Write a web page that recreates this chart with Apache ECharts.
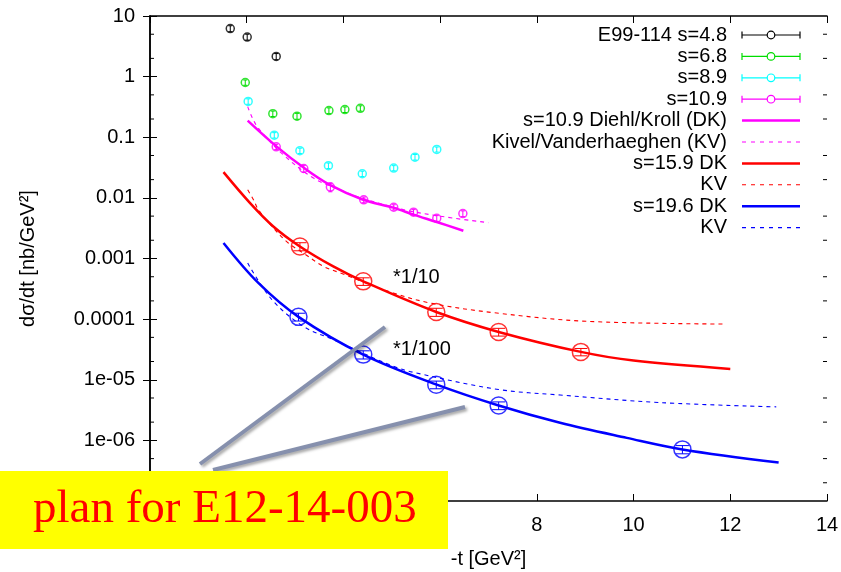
<!DOCTYPE html>
<html>
<head>
<meta charset="utf-8">
<script src="https://cdn.jsdelivr.net/npm/echarts@6/dist/echarts.min.js"></script>
<style>
html, body { margin: 0; padding: 0; background: #fff; }
#chart { width: 841px; height: 572px; }
</style>
</head>
<body>
<div id="chart"></div>
<script>
// data points (x = -t, y = dsigma/dt, err = error bar)
var e99X = [1.66, 2.01, 2.61];
var e99Y = [6.2, 4.5, 2.15];
var e99Err = [0.7, 0.5, 0.25];

var s68X = [1.97, 2.54, 3.04, 3.70, 4.03, 4.35];
var s68Y = [0.80, 0.245, 0.223, 0.275, 0.286, 0.30];
var s68Err = [0.08, 0.025, 0.025, 0.03, 0.03, 0.03];

var s89X = [2.03, 2.57, 3.10, 3.69, 4.39, 5.04, 5.48, 5.93];
var s89Y = [0.39, 0.108, 0.060, 0.034, 0.025, 0.031, 0.047, 0.063];
var s89Err = [0.04, 0.011, 0.006, 0.0035, 0.0025, 0.003, 0.005, 0.006];

var s109X = [2.61, 3.18, 3.73, 4.42, 5.04, 5.45, 5.93, 6.47];
var s109Y = [0.0695, 0.0305, 0.0151, 0.0093, 0.0070, 0.0058, 0.0046, 0.0055];
var s109Err = [0.007, 0.004, 0.0025, 0.001, 0.0007, 0.0006, 0.0005, 0.0006];

// projected points (scaled *1/10 and *1/100)
var p159X = [3.10, 4.41, 5.92, 7.21, 8.91];
var p159Y = [1.58e-3, 4.2e-4, 1.31e-4, 6.15e-5, 2.88e-5];
var p159Err = [2.4e-4, 6e-5, 2e-5, 9e-6, 4e-6];

var p196X = [3.07, 4.41, 5.92, 7.21, 11.01];
var p196Y = [1.09e-4, 2.6e-5, 8.3e-6, 3.76e-6, 7.1e-7];
var p196Err = [1.6e-5, 4e-6, 1.2e-6, 5.5e-7, 1.1e-7];

// model curves
var dk109 = [[2.02, 0.188], [2.62, 0.070], [3.19, 0.031], [3.72, 0.0164], [4.41, 0.0093],
             [5.03, 0.0069], [5.45, 0.0053], [5.93, 0.0040], [6.48, 0.00287]];
var kv109 = [[2.02, 0.32], [2.12, 0.206], [2.24, 0.141], [2.72, 0.0547], [3.38, 0.0212],
             [3.93, 0.0136], [4.28, 0.0105], [5.24, 0.0064], [6.14, 0.0048], [7.0, 0.0039]];
var dk159 = [[1.52, 0.0266], [2.07, 0.0082], [2.55, 0.00338], [3.10, 0.00158], [3.79, 0.00074],
             [4.41, 0.00042], [5.92, 0.000131], [7.21, 6.15e-5], [8.91, 2.88e-5], [10.0, 2.07e-5], [12.0, 1.51e-5]];
var kv159 = [[2.02, 0.0136], [2.14, 0.0093], [2.24, 0.0064], [2.52, 0.0034], [2.86, 0.0018],
             [3.17, 0.00123], [3.59, 0.00074], [3.93, 0.00058], [5.03, 2.7e-4], [5.86, 1.8e-4],
             [7.17, 1.26e-4], [9.03, 9.2e-5], [11.9, 8.3e-5]];
var dk196 = [[1.52, 0.0018], [2.24, 3.95e-4], [3.07, 1.09e-4], [4.41, 2.6e-5], [5.93, 8.3e-6],
             [7.21, 3.76e-6], [8.48, 1.95e-6], [9.86, 1.10e-6], [11.01, 7.1e-7], [13.0, 4.3e-7]];
var kv196 = [[2.02, 8.4e-4], [2.52, 2.1e-4], [3.17, 7.6e-5], [3.79, 4.6e-5], [5.03, 1.67e-5],
             [5.59, 1.25e-5], [7.21, 6.9e-6], [8.48, 5.6e-6], [10.55, 4.2e-6], [12.95, 3.57e-6]];

var yTickLabels = ['1e-07', '1e-06', '1e-05', '0.0001', '0.001', '0.01', '0.1', '1', '10'];
var minorSteps = [2, 5];
var legendNames = ['E99-114 s=4.8', 's=6.8', 's=8.9', 's=10.9', 's=10.9 Diehl/Kroll (DK)',
                   'Kivel/Vanderhaeghen (KV)', 's=15.9 DK', 'KV', 's=19.6 DK', 'KV'];

var FONT = 'Liberation Sans, Arial, Helvetica, sans-serif';

function zip(xs, ys, es) {
	return xs.map(function (x, i) { return [x, ys[i], es[i]]; });
}

function errRender(half) {
	return function (params, api) {
		var x = api.value(0), y = api.value(1), e = api.value(2);
		var hi = api.coord([x, y + e]), lo = api.coord([x, y - e]);
		var st = { stroke: api.visual('color'), lineWidth: 1 };
		return {
			type: 'group',
			children: [
				{ type: 'line', shape: { x1: hi[0], y1: hi[1], x2: lo[0], y2: lo[1] }, style: st },
				{ type: 'line', shape: { x1: hi[0] - half, y1: hi[1], x2: hi[0] + half, y2: hi[1] }, style: st },
				{ type: 'line', shape: { x1: lo[0] - half, y1: lo[1], x2: lo[0] + half, y2: lo[1] }, style: st }
			]
		};
	};
}

function points(name, xs, ys, es, color, size) {
	var data = zip(xs, ys, es);
	return [
		{
			name: name, type: 'scatter', data: data, symbol: 'circle', symbolSize: size,
			itemStyle: { color: 'rgba(0,0,0,0)', borderColor: color, borderWidth: 1.5 },
			z: 4
		},
		{
			name: name, type: 'custom', data: data, encode: { x: 0, y: 1 },
			itemStyle: { color: color }, renderItem: errRender(size / 2 - 2), z: 4
		}
	];
}

function curve(name, data, color, dashed) {
	return {
		name: name, type: 'line', data: data, showSymbol: false, smooth: 0.35,
		lineStyle: dashed ? { color: color, width: 1.1, type: [4, 4] } : { color: color, width: 2.5 },
		z: dashed ? 2 : 3
	};
}

// gnuplot-style minor ticks at 2 and 5 of each decade, on left and right axes
var minorVals = [];
for (var k = -7; k < 1; k++) {
	minorSteps.forEach(function (m) { minorVals.push([0, m * Math.pow(10, k)]); });
}
var minorTickSeries = {
	name: 'minor ticks', type: 'custom', data: minorVals, encode: { x: 0, y: 1 }, silent: true, z: 5,
	renderItem: function (params, api) {
		var l = api.coord([0, api.value(1)]);
		var r = api.coord([14, api.value(1)]);
		var st = { stroke: '#000', lineWidth: 1 };
		return {
			type: 'group',
			children: [
				{ type: 'line', shape: { x1: l[0], y1: l[1], x2: l[0] + 4, y2: l[1] }, style: st },
				{ type: 'line', shape: { x1: r[0] - 4, y1: r[1], x2: r[0], y2: r[1] }, style: st }
			]
		};
	}
};

var series = [].concat(
	points('E99-114 s=4.8', e99X, e99Y, e99Err, '#000000', 8),
	points('s=6.8', s68X, s68Y, s68Err, '#00dd00', 8),
	points('s=8.9', s89X, s89Y, s89Err, '#00ffff', 8),
	points('s=10.9', s109X, s109Y, s109Err, '#ff00ff', 8),
	[curve('DK 10.9', dk109, '#ff00ff', false), curve('KV 10.9', kv109, '#ff00ff', true)],
	[curve('DK 15.9', dk159, '#ff0000', false), curve('KV 15.9', kv159, '#ff0000', true)],
	points('s=15.9 points', p159X, p159Y, p159Err, '#ff0000', 17),
	[curve('DK 19.6', dk196, '#0000ff', false), curve('KV 19.6', kv196, '#0000ff', true)],
	points('s=19.6 points', p196X, p196Y, p196Err, '#0000ff', 17),
	[minorTickSeries]
);

// legend drawn as text + samples, gnuplot style
var legendStyles = [
	{ color: '#000000', kind: 'err' }, { color: '#00dd00', kind: 'err' },
	{ color: '#00ffff', kind: 'err' }, { color: '#ff00ff', kind: 'err' },
	{ color: '#ff00ff', kind: 'solid' }, { color: '#ff00ff', kind: 'dash' },
	{ color: '#ff0000', kind: 'solid' }, { color: '#ff0000', kind: 'dash' },
	{ color: '#0000ff', kind: 'solid' }, { color: '#0000ff', kind: 'dash' }
];
var graphics = [];
legendNames.forEach(function (name, i) {
	var y = 35 + i * 21.4;
	var s = legendStyles[i];
	graphics.push({
		type: 'text', x: 727, y: y,
		style: { text: name, font: '20px ' + FONT, fill: '#000', align: 'right', verticalAlign: 'middle' }
	});
	if (s.kind === 'err') {
		var st = { stroke: s.color, lineWidth: 1.2 };
		graphics.push({ type: 'line', shape: { x1: 742, y1: y, x2: 800, y2: y }, style: st });
		graphics.push({ type: 'line', shape: { x1: 742, y1: y - 3.5, x2: 742, y2: y + 3.5 }, style: st });
		graphics.push({ type: 'line', shape: { x1: 800, y1: y - 3.5, x2: 800, y2: y + 3.5 }, style: st });
		graphics.push({ type: 'circle', shape: { cx: 771, cy: y, r: 3.8 }, style: { stroke: s.color, fill: '#fff', lineWidth: 1.2 } });
	} else if (s.kind === 'solid') {
		graphics.push({ type: 'line', shape: { x1: 742, y1: y, x2: 800, y2: y }, style: { stroke: s.color, lineWidth: 2.5 } });
	} else {
		graphics.push({ type: 'line', shape: { x1: 742, y1: y, x2: 800, y2: y }, style: { stroke: s.color, lineWidth: 1.1, lineDash: [4, 5] } });
	}
});

// scale annotations
graphics.push({ type: 'text', x: 393, y: 277, style: { text: '*1/10', font: '20px ' + FONT, fill: '#000', verticalAlign: 'middle' } });
graphics.push({ type: 'text', x: 393, y: 349, style: { text: '*1/100', font: '20px ' + FONT, fill: '#000', verticalAlign: 'middle' } });

// pointer lines
var grayLine = {
	stroke: '#8690ad', lineWidth: 4, lineCap: 'butt',
	shadowBlur: 3, shadowColor: 'rgba(0,0,0,0.35)', shadowOffsetX: 2, shadowOffsetY: 2
};
graphics.push({ type: 'line', z: 50, shape: { x1: 200, y1: 464, x2: 385, y2: 327 }, style: grayLine });
graphics.push({ type: 'line', z: 50, shape: { x1: 213, y1: 470, x2: 465, y2: 407 }, style: grayLine });

// yellow banner
graphics.push({ type: 'rect', z: 100, shape: { x: 0, y: 471, width: 448, height: 78 }, style: { fill: '#ffff00' } });
graphics.push({
	type: 'text', z: 101, x: 33, y: 510,
	style: { text: 'plan for E12-14-003', font: '47px Liberation Serif, Times New Roman, serif', fill: '#ff0000', verticalAlign: 'middle' }
});

var axisLine = { lineStyle: { color: '#000', width: 1.5 } };
var tick = { inside: true, length: 7, lineStyle: { color: '#000', width: 1 } };

var option = {
	animation: false,
	backgroundColor: '#fff',
	grid: { left: 150, right: 14, top: 16, bottom: 71, outerBoundsMode: 'none' },
	xAxis: [
		{
			type: 'value', min: 0, max: 14, interval: 2, position: 'bottom',
			axisLine: axisLine, axisTick: tick, splitLine: { show: false },
			axisLabel: { color: '#000', fontSize: 20, fontFamily: FONT, margin: 14 },
			name: '-t [GeV²]', nameLocation: 'middle', nameGap: 48,
			nameTextStyle: { color: '#000', fontSize: 20, fontFamily: FONT }
		},
		{
			type: 'value', min: 0, max: 14, interval: 2, position: 'top',
			axisLine: axisLine, axisTick: tick, splitLine: { show: false }, axisLabel: { show: false }
		}
	],
	yAxis: [
		{
			type: 'log', logBase: 10, min: 1e-7, max: 10, splitNumber: 8, position: 'left',
			axisLine: axisLine, axisTick: tick, splitLine: { show: false },
			axisLabel: {
				color: '#000', fontSize: 20, fontFamily: FONT, margin: 15,
				formatter: function (v) { return yTickLabels[Math.round(Math.log10(v)) + 7]; }
			},
			name: 'dσ/dt [nb/GeV²]', nameLocation: 'middle', nameGap: 112, nameRotate: 90,
			nameTextStyle: { color: '#000', fontSize: 20, fontFamily: FONT }
		},
		{
			type: 'log', logBase: 10, min: 1e-7, max: 10, splitNumber: 8, position: 'right',
			axisLine: axisLine, axisTick: tick, splitLine: { show: false },
			axisLabel: { show: false }
		}
	],
	series: series,
	graphic: graphics
};

var chart = echarts.init(document.getElementById('chart'));
chart.setOption(option);
</script>
</body>
</html>
